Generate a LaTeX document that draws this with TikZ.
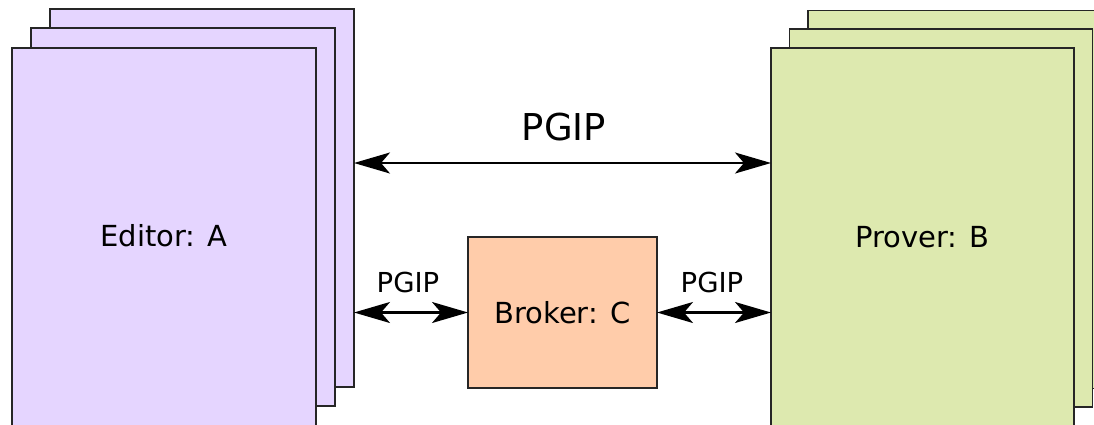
\documentclass[tikz,border=0pt]{standalone}
\usepackage{fontspec}
\setmainfont{DejaVu Sans}
\usetikzlibrary{arrows.meta}
\definecolor{editorfill}{HTML}{E5D5FF}
\definecolor{proverfill}{HTML}{DDE9AF}
\definecolor{brokerfill}{HTML}{FFCCAA}
\tikzset{
  sheet/.style={draw=black!85, line width=1.3pt, minimum width=#1, minimum height=378pt,
    inner sep=0pt, outer sep=0pt},
  editorsheet/.style={sheet=304pt, fill=editorfill},
  proversheet/.style={sheet=303pt, fill=proverfill},
  brokerbox/.style={draw=black!85, line width=1.3pt, fill=brokerfill,
    minimum width=189pt, minimum height=151pt, inner sep=0pt, outer sep=0pt,
    font=\fontsize{29}{34}\selectfont},
  tip/.style={Stealth[length=36pt,width=21pt,inset=9pt]},
  biarrow/.style={line width=2.2pt, {Stealth[length=36pt,width=21pt,inset=9pt]}-{Stealth[length=36pt,width=21pt,inset=9pt]}},
  biglabel/.style={font=\fontsize{37}{44}\selectfont, inner sep=0pt},
  smalllabel/.style={font=\fontsize{27.5}{32}\selectfont, inner sep=0pt},
  sheetlabel/.style={font=\fontsize{29}{34}\selectfont, inner sep=0pt}
}
\begin{document}
\begin{tikzpicture}[x=1pt, y=-1pt]
  \useasboundingbox (0,0) rectangle (1094,424);

  % Editor stack (back to front)
  \node[editorsheet] (lback)  at (202,198) {};
  \node[editorsheet] (lmid)   at (183,217) {};
  \node[editorsheet] (lfront) at (164,237) {};
  \node[sheetlabel] (editor) at (164,236) {Editor: A};

  % Prover stack (back to front)
  \node[proversheet] (rback)  at (959.5,199.5) {};
  \node[proversheet] (rmid)   at (941,218) {};
  \node[proversheet] (rfront) at (922.5,237) {};
  \node[sheetlabel] (prover) at (rfront.center) {Prover: B};

  % Broker
  \node[brokerbox] (broker) at (562.5,312.5) {Broker: C};

  % Direct link between editor and prover
  \coordinate (toprow) at (0,163);
  \draw[biarrow] (lback.east |- toprow) -- (rfront.west |- toprow);
  \node[biglabel] (pgiptop) at (564,127) {PGIP};

  % Links through the broker
  \draw[biarrow] (lback.east |- broker.west) -- (broker.west);
  \draw[biarrow] (broker.east) -- (rfront.west |- broker.east);
  \node[smalllabel] (pgipleft)  at (408,282) {PGIP};
  \node[smalllabel] (pgipright) at (712,282) {PGIP};
\end{tikzpicture}
\end{document}
